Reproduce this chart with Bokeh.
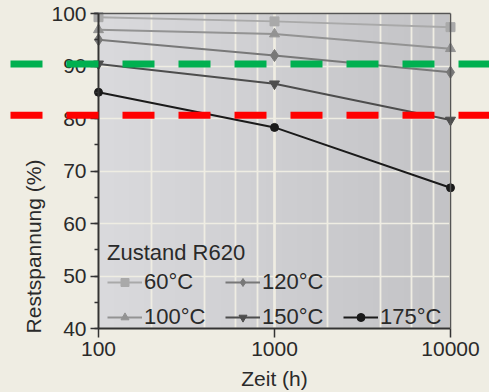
from bokeh.plotting import figure
from bokeh.models import (Range1d, SingleIntervalTicker, LogTicker, BasicTickFormatter, FixedTicker,
                          Legend, LegendItem, Label, ColumnDataSource, Span,
                          LinearAxis, LogAxis)
from bokeh.embed import file_html
from bokeh.resources import INLINE
import numpy as np
import math

# ---- data ----
times = [100, 1000, 10000]
r60 = [99.3, 98.5, 97.4]
r100 = [96.9, 96.1, 93.3]
r120 = [95.0, 92.0, 88.8]
r150 = [90.4, 86.6, 79.7]
r175 = [85.0, 78.3, 66.8]
series_labels = ["60°C", "100°C", "120°C", "150°C", "175°C"]
thresholds = [90.4, 80.6]
threshold_colors = ["#00b050", "#ff0000"]
legend_title = "Zustand R620"
x_title = "Zeit (h)"
y_title = "Restspannung (%)"
x_min, x_max = 100, 10000
y_min, y_max = 40, 100

FONT = "Liberation Sans"
TXT = "#2a2a2a"
BG = "#efede3"
DARK = "#333333"

# layout (pixels): plot area spans x 98..450, y 13..328 of a 489x392 canvas;
# the drawing frame covers the whole canvas so the threshold lines can run edge to edge
W, H = 489, 392
AREA_L, AREA_R, AREA_T, AREA_B = 98, 450, 13, 328
px_per_decade = (AREA_R - AREA_L) / (math.log10(x_max) - math.log10(x_min))
xr_lo = 10 ** (math.log10(x_min) - AREA_L / px_per_decade)
xr_hi = 10 ** (math.log10(x_max) + (W - AREA_R) / px_per_decade)
px_per_unit = (AREA_B - AREA_T) / (y_max - y_min)
yr_lo = y_min - (H - AREA_B) / px_per_unit
yr_hi = y_max + AREA_T / px_per_unit

p = figure(width=W, height=H, x_axis_type="log",
           x_range=Range1d(xr_lo, xr_hi), y_range=Range1d(yr_lo, yr_hi),
           output_backend="svg", toolbar_location=None,
           min_border=0)
p.background_fill_color = BG
p.border_fill_color = BG
p.outline_line_color = None

# gray plot area with a light-to-dark horizontal shading
ncol = AREA_R - AREA_L
shade_left = np.array([0xda, 0xda, 0xdd])
shade_right = np.array([0xc3, 0xc3, 0xc6])
t = np.linspace(0, 1, ncol)[:, None]
rgb = (shade_left * (1 - t) + shade_right * t).astype(np.uint32)
img = np.empty((1, ncol), dtype=np.uint32)
img[0, :] = (255 << 24) | (rgb[:, 2] << 16) | (rgb[:, 1] << 8) | rgb[:, 0]
p.image_rgba(image=[img], x=x_min, y=y_min, dw=x_max - x_min, dh=y_max - y_min, level="image")

# axes
for ax in (p.xaxis[0], p.yaxis[0]):
    ax.axis_line_color = DARK
    ax.axis_line_width = 2
    ax.major_tick_line_color = DARK
    ax.major_tick_line_width = 1.5
    ax.minor_tick_line_color = DARK
    ax.minor_tick_line_width = 1.5
    ax.major_tick_in = 0
    ax.minor_tick_in = 0
    ax.major_label_text_font = FONT
    ax.major_label_text_font_size = "21px"
    ax.major_label_text_color = TXT

p.xaxis.ticker = LogTicker()
p.xaxis.formatter = BasicTickFormatter()
p.xaxis.bounds = (x_min, x_max)
p.xaxis.fixed_location = y_min
p.xaxis.major_tick_out = 9
p.xaxis.minor_tick_line_color = None
p.xaxis.major_label_standoff = 4

p.yaxis.ticker = SingleIntervalTicker(interval=10, num_minor_ticks=2)
p.yaxis.bounds = (y_min, y_max)
p.yaxis.fixed_location = x_min
p.yaxis.major_tick_out = 8
p.yaxis.minor_tick_out = 4
p.yaxis.major_label_standoff = 4

# frame borders (top, right)
right_ax = LinearAxis(fixed_location=x_max, bounds=(y_min, y_max), ticker=FixedTicker(ticks=[]),
                      axis_line_color="#555555", axis_line_width=1.5,
                      major_tick_line_color=None, minor_tick_line_color=None)
p.add_layout(right_ax, "right")
top_ax = LogAxis(fixed_location=y_max, bounds=(x_min, x_max), ticker=FixedTicker(ticks=[]),
                 axis_line_color="#555555", axis_line_width=1.5,
                 major_tick_line_color=None, minor_tick_line_color=None)
p.add_layout(top_ax, "above")

# grids
p.xgrid.bounds = (x_min, x_max)
p.xgrid.cross_bounds = (y_min, y_max)
p.xgrid.grid_line_color = BG
p.xgrid.grid_line_width = 2.5
p.xgrid.minor_grid_line_color = BG
p.xgrid.minor_grid_line_width = 1.8
p.ygrid.bounds = (y_min, y_max)
p.ygrid.cross_bounds = (x_min, x_max)
p.ygrid.grid_line_color = BG
p.ygrid.grid_line_width = 1.5
p.ygrid.ticker = SingleIntervalTicker(interval=10)

# series
styles = [
    (r60, "#a9a9a9", "square", 9),
    (r100, "#939393", "triangle", 10),
    (r120, "#787878", "diamond", 12),
    (r150, "#4d4d4d", "inverted_triangle", 10),
    (r175, "#1a1a1a", "circle", 8),
]
items = []
for (vals, col, mk, sz), lab in zip(styles, series_labels):
    src = ColumnDataSource(dict(x=times, y=vals))
    ln = p.line("x", "y", source=src, line_color=col, line_width=2)
    sc = p.scatter("x", "y", source=src, marker=mk, size=sz, fill_color=col, line_color=col)
    items.append(LegendItem(label=lab, renderers=[ln, sc]))

dummy = p.scatter(x=[], y=[], size=0, alpha=0)
legend_items = items[:4] + [LegendItem(label=" ", renderers=[dummy])] + items[4:]

legend = Legend(items=legend_items, location=(AREA_L + 9, H - AREA_B - 2),
                orientation="vertical", nrows=2,
                title=legend_title, title_text_font=FONT, title_text_font_size="22px",
                title_text_font_style="normal", title_text_color=TXT, title_standoff=3,
                label_text_font=FONT, label_text_font_size="22px", label_text_color=TXT,
                glyph_width=35, glyph_height=20, label_standoff=2, label_width=72,
                spacing=9, padding=0, margin=0,
                background_fill_alpha=0, border_line_color=None)
p.add_layout(legend)

# threshold dashed lines across the whole width
for thr, col in zip(thresholds, threshold_colors):
    p.add_layout(Span(location=thr, dimension="width", line_color=col, line_width=7,
                      line_dash="32 24", line_dash_offset=46))

# axis titles
p.add_layout(Label(x=33, y=246, x_units="canvas", y_units="canvas", text=y_title,
                   angle=math.pi / 2, text_align="center", text_baseline="middle",
                   text_font=FONT, text_font_size="21px", text_color=TXT))
p.add_layout(Label(x=(AREA_L + AREA_R) / 2, y=378, x_units="canvas", y_units="canvas", text=x_title,
                   text_align="center", text_baseline="middle",
                   text_font=FONT, text_font_size="21px", text_color=TXT))

html = file_html(p, INLINE)
html = html.replace("<body>", '<body style="background-color:%s">' % BG)
open("out.html", "w").write(html)
